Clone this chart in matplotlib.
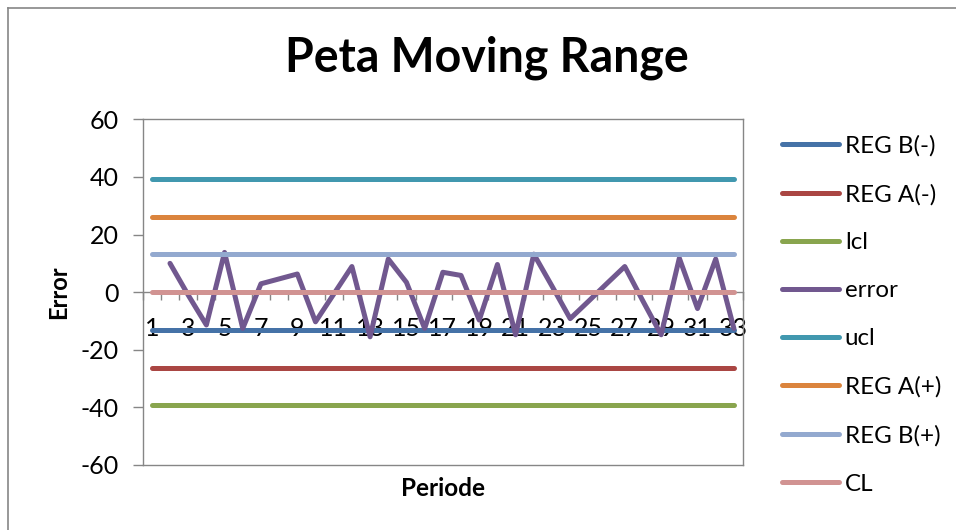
import numpy as np
import matplotlib
matplotlib.use("Agg")
import matplotlib.pyplot as plt
from matplotlib.lines import Line2D

plt.rcParams['font.family'] = ['Lato', 'DejaVu Sans']

# ---- data ----
periods = list(range(1, 34))
error = [np.nan, 10.0, -1.0, -11.4, 13.8, -12.6, 2.9, 4.6, 6.3, -10.3, -0.7, 8.9,
         -15.5, 11.5, 3.4, -12.6, 6.9, 5.8, -9.7, 9.6, -14.8, 13.2, 2.1, -9.2,
         -3.2, 2.9, 8.9, -3.1, -14.8, 11.8, -5.7, 11.5, -12.6]
ucl_val = 39.3
reg_a_val = 26.2
reg_b_val = 13.1
cl_val = 0.0

series_names = ['REG B(-)', 'REG A(-)', 'lcl', 'error', 'ucl', 'REG A(+)', 'REG B(+)', 'CL']
series_values = [
    [-reg_b_val] * 33,
    [-reg_a_val] * 33,
    [-ucl_val] * 33,
    error,
    [ucl_val] * 33,
    [reg_a_val] * 33,
    [reg_b_val] * 33,
    [cl_val] * 33,
]
colors = ['#4572A7', '#AA4643', '#89A54E', '#71588F', '#4198AF', '#DB843D', '#93A9CF', '#D19392']
y_ticks = [-60, -40, -20, 0, 20, 40, 60]
x_labels = list(range(1, 34, 2))

W, H = 956, 530
fig = plt.figure(figsize=(W / 100, H / 100), dpi=100)

def fx(px):
    return px / W

def fy(py):
    return 1 - py / H

ax = fig.add_axes([fx(142.7), fy(465), fx(743) - fx(142.7), fy(119.3) - fy(465)])

handles = []
for name, vals, c in zip(series_names, series_values, colors):
    ln, = ax.plot(periods, vals, color=c, lw=3.6, solid_capstyle='round',
                  solid_joinstyle='round', label=name, clip_on=False)
    handles.append(ln)

ax.set_xlim(0.5, 33.5)
ax.set_ylim(-60, 60)

grey = '#868686'
for s in ['left', 'top', 'right']:
    ax.spines[s].set_color(grey)
    ax.spines[s].set_linewidth(1.0)
ax.spines['bottom'].set_position(('data', 0))
ax.spines['bottom'].set_color(grey)
ax.spines['bottom'].set_linewidth(1.0)
ax.spines['bottom'].set_zorder(0.5)
# bottom border of plot area
ax.plot([0, 1], [0, 0], transform=ax.transAxes, color=grey, lw=1.0, clip_on=False)

ax.set_yticks(y_ticks)
ax.set_yticklabels([str(v) for v in y_ticks])
ax.tick_params(axis='y', direction='out', length=7, width=1.0, color=grey,
               labelsize=18, pad=10)

ax.set_xticks(x_labels)
ax.set_xticklabels([str(v) for v in x_labels])
ax.set_xticks(np.arange(0.5, 34, 1.0), minor=True)
ax.tick_params(axis='x', which='major', length=0, labelsize=18, pad=18)
ax.tick_params(axis='x', which='minor', direction='out', length=6, width=1.0, color=grey)

# titles
fig.text(fx(487), fy(71.7), 'Peta Moving Range', ha='center', va='baseline',
         fontsize=33.5, fontweight='bold')
fig.text(fx(59), fy(292), 'Error', ha='center', va='center', rotation=90,
         fontsize=17, fontweight='bold')
fig.text(fx(443), fy(489), 'Periode', ha='center', va='center',
         fontsize=17.5, fontweight='bold')

# legend
leg = fig.legend(handles=handles, labels=series_names, loc='upper left',
                 bbox_to_anchor=(fx(782), fy(135)), frameon=False, fontsize=17.4,
                 handlelength=2.35, handletextpad=0.25, labelspacing=1.12,
                 borderpad=0, borderaxespad=0)

# chart area border
fig.add_artist(Line2D([fx(8), fx(8)], [fy(7.5), 0], color=grey, lw=1.2))
fig.add_artist(Line2D([fx(8), 1], [fy(7.5), fy(7.5)], color=grey, lw=1.2))

fig.savefig('out.png', dpi=100)
